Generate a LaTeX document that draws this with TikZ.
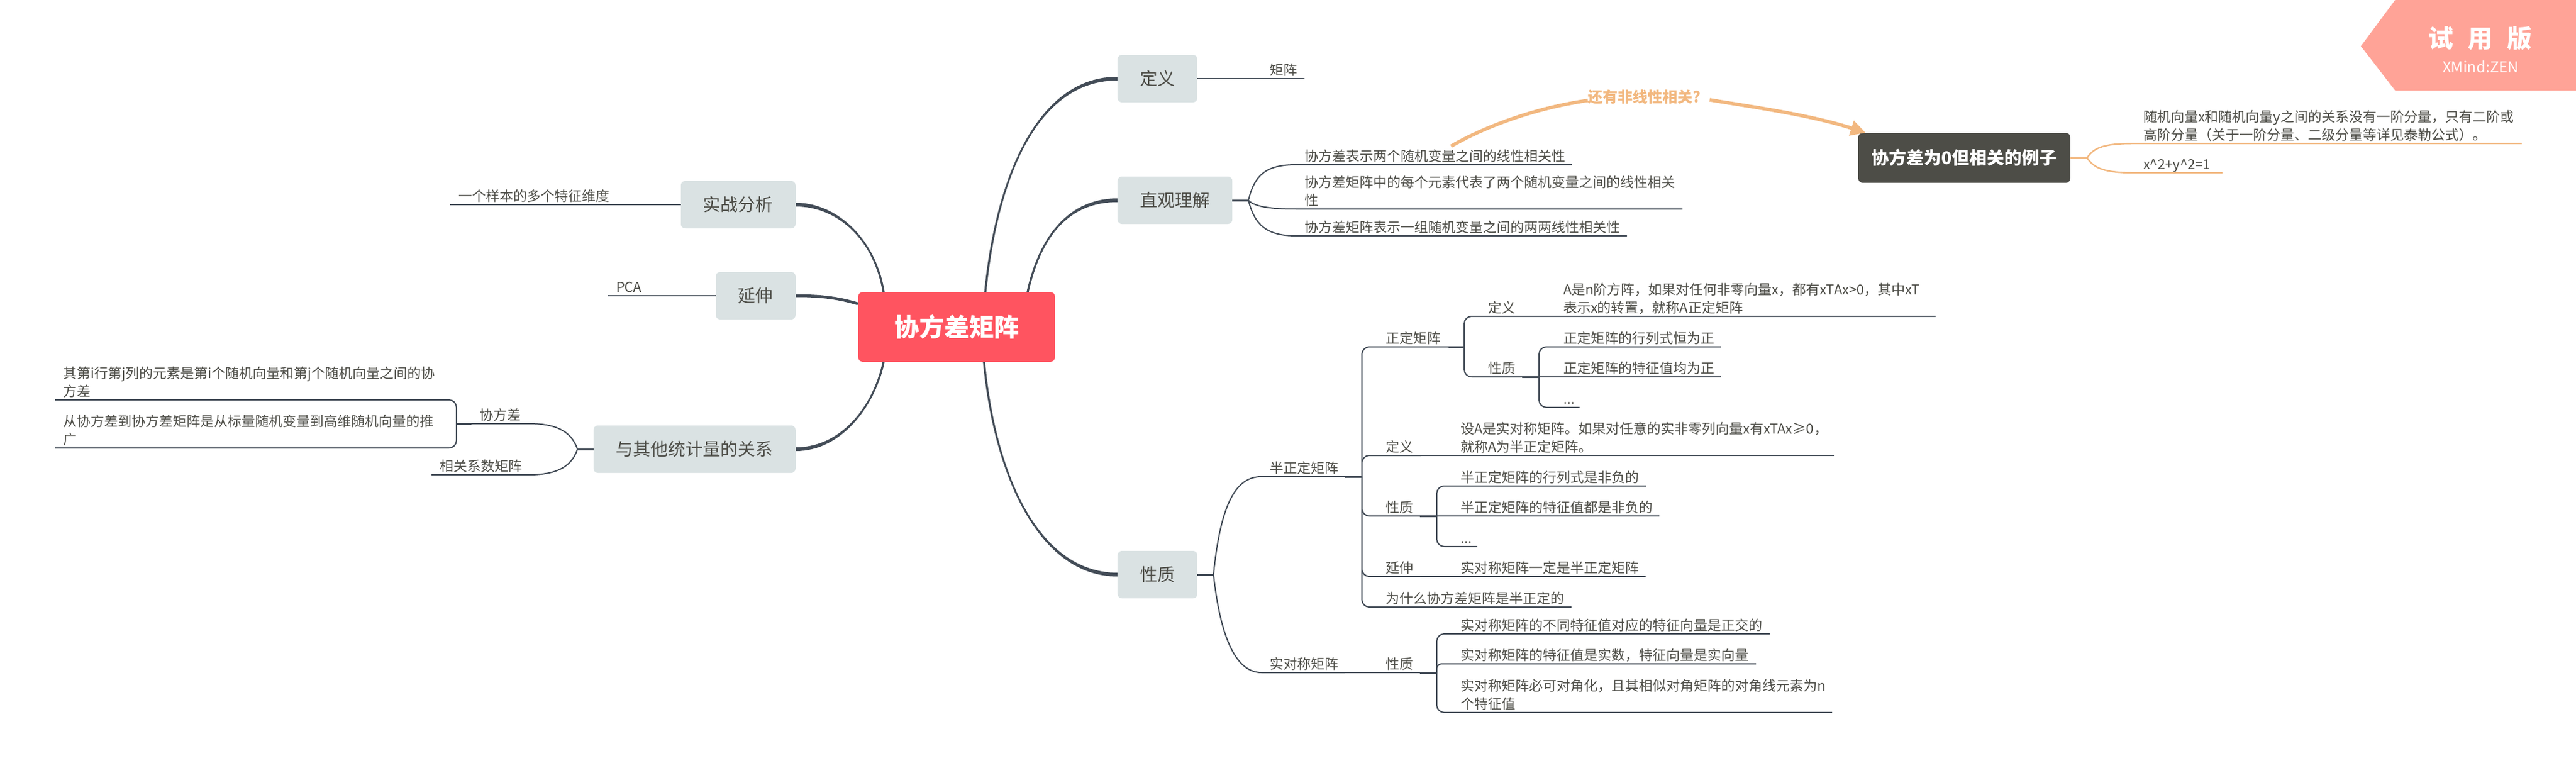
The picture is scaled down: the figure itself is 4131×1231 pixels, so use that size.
\documentclass[tikz,border=0pt]{standalone}
\usepackage{fontspec}
\setmainfont{Noto Sans CJK SC}
\usepackage{xcolor}
\usetikzlibrary{arrows.meta}
\definecolor{vtext}{HTML}{4d4d47}
\definecolor{vlink}{HTML}{434c57}
\definecolor{vtopic}{HTML}{dae2e3}
\definecolor{vroot}{HTML}{ff5460}
\definecolor{vorange}{HTML}{f2b880}
\definecolor{vbadge}{HTML}{ffa397}
\tikzset{
	root/.style={fill=vroot, rounded corners=8pt, minimum width=316pt, minimum height=112pt, inner sep=0pt, text=white, font=\fontsize{40}{48}\selectfont\bfseries},
	topic/.style={fill=vtopic, rounded corners=7pt, minimum height=76pt, inner xsep=36pt, inner ysep=0pt, text height=24pt, text depth=4pt, text=vtext, font=\fontsize{28}{34}\selectfont},
	leaf/.style={text width=#1pt, align=left, anchor=south west, inner xsep=13pt, inner ysep=5.5pt, outer sep=0pt, text depth=0pt, text=vtext, font=\fontsize{22}{29}\selectfont},
	twolines/.style={text depth=29pt},
	link/.style={draw=vlink, line width=2pt},
	stub/.style={draw=vlink, line width=3pt},
	orangelink/.style={draw=vorange, line width=2.4pt},
	relation/.style={draw=vorange, line width=5.5pt}
}
\newcommand{\mainlink}[5]{\fill[vlink] ([xshift=-1.7pt]#1) .. controls ([xshift=-1.7pt]#2) and ([yshift=#5*3pt]#3) .. ([yshift=#5*3pt]#4) -- ([yshift=#5*-3pt]#4) .. controls ([yshift=#5*-3pt]#3) and ([xshift=1.7pt]#2) .. ([xshift=1.7pt]#1) -- cycle;}
\begin{document}
\begin{tikzpicture}[x=1pt, y=-1pt]
		\useasboundingbox (0,0) rectangle (4131,1231);
		% badge
		\fill[vbadge] (3841,0) -- (3786,74) -- (3841,145) -- (4131,145) -- (4131,0) -- cycle;
		\node[text=white, font=\fontsize{40}{48}\selectfont\bfseries] (trial) at (3977,62) {\spaceskip=23pt 试 用 版};
		\node[text=white, font=\fontsize{24}{30}\selectfont] (zen) at (3978,107) {XMind:ZEN};
		% root and topics
		\node[root] (root) at (1534,524) {协方差矩阵};
		\node[topic, anchor=east] (shizhan) at (1276,328) {实战分析};
		\node[topic, anchor=east] (yanshen) at (1276,474) {延伸};
		\node[topic, anchor=east] (guanxi) at (1276,720) {与其他统计量的关系};
		\node[topic, anchor=west] (dingyi) at (1792,126) {定义};
		\node[topic, anchor=west] (zhiguan) at (1792,321) {直观理解};
		\node[topic, anchor=west] (xingzhi) at (1792,921) {性质};
		\mainlink{1417,468}{1402,380}{1340,328}{1276,328}{-1}
		\mainlink{1417,580}{1402,650}{1350,720}{1276,720}{1}
		\mainlink{1580,468}{1600,270}{1670,126}{1792,126}{1}
		\mainlink{1648,468}{1670,370}{1720,321}{1792,321}{1}
		\mainlink{1578,580}{1595,760}{1665,921}{1792,921}{-1}
		\draw[vlink, line width=4.5pt] ([yshift=37pt]root.west) .. controls (1340,476) and (1310,474) .. (yanshen.east);
		% left side
		\node[leaf=240] (sample) at (722,328) {一个样本的多个特征维度};
		\draw[link] (sample.south west) -- (sample.south east) -- (shizhan.west);
		\node[leaf=43] (pca) at (975,474) {PCA};
		\draw[link] (pca.south west) -- (pca.south east) -- (yanshen.west);
		\coordinate (guanxifork) at (926,720);
		\node[leaf=66] (cov) at (756,679) {协方差};
		\node[leaf=130] (corr) at (692,761) {相关系数矩阵};
		\draw[stub] (guanxi.west) -- (guanxifork);
		\draw[link] (guanxifork) .. controls (916,690) and (890,679) .. (cov.south east) -- (cov.south west);
		\draw[link] (guanxifork) .. controls (916,750) and (890,761) .. (corr.south east) -- (corr.south west);
		\coordinate (covfork) at (732,679);
		\node[leaf=591, twolines] (covq) at (88,641) {其第i行第j列的元素是第i个随机向量和第j个随机向量之间的协\\方差};
		\node[leaf=591, twolines] (covr) at (88,718) {从协方差到协方差矩阵是从标量随机变量到高维随机向量的推\\广};
		\draw[stub] (cov.south west) -- (covfork);
		\draw[link, rounded corners=12pt] (covfork) |- (covq.south east) -- (covq.south west);
		\draw[link, rounded corners=12pt] (covfork) |- (covr.south east) -- (covr.south west);
		% definition
		\node[leaf=43] (matrix) at (2023,126) {矩阵};
		\draw[link] (dingyi.east) -- (matrix.south west) -- (matrix.south east);
		% intuition
		\coordinate (zhiguanfork) at (2002,321);
		\node[leaf=416] (linear) at (2079,264) {协方差表示两个随机变量之间的线性相关性};
		\node[leaf=593, twolines] (element) at (2079,335) {协方差矩阵中的每个元素代表了两个随机变量之间的线性相关\\性};
		\node[leaf=504] (pairwise) at (2079,378) {协方差矩阵表示一组随机变量之间的两两线性相关性};
		\draw[stub] (zhiguan.east) -- (zhiguanfork);
		\draw[link] (zhiguanfork) .. controls (2012,280) and (2030,264) .. (linear.south west) -- (linear.south east);
		\draw[link] (zhiguanfork) .. controls (2012,332) and (2040,335) .. (element.south west) -- (element.south east);
		\draw[link] (zhiguanfork) .. controls (2012,360) and (2030,378) .. (pairwise.south west) -- (pairwise.south east);
		% relation to the example
		\node[inner sep=0pt, text=vorange, font=\fontsize{24}{30}\selectfont\bfseries] (nonlinear) at (2637,155) {还有非线性相关?};
		\node[fill=vtext, rounded corners=7pt, minimum width=340pt, minimum height=80pt, inner sep=0pt, text=white, font=\fontsize{28}{34}\selectfont\bfseries] (example) at (3150,253) {协方差为0但相关的例子};
		\draw[relation] ([xshift=27pt]linear.north) .. controls (2390,198) and (2470,172) .. ([yshift=-6pt]nonlinear.west);
		\draw[relation, -{Triangle[length=24pt, width=24pt]}] ([xshift=14pt, yshift=-5pt]nonlinear.east) .. controls (2800,170) and (2900,183) .. ([xshift=12pt]example.north west);
		\coordinate (examplefork) at (3347,253);
		\node[leaf=594, twolines] (moment) at (3424,230) {随机向量x和随机向量y之间的关系没有一阶分量，只有二阶或\\高阶分量（关于一阶分量、二级分量等详见泰勒公式）。};
		\node[leaf=114] (circle) at (3424,277) {x\textasciicircum 2+y\textasciicircum 2=1};
		\draw[orangelink, line width=3.5pt] (example.east) -- (examplefork);
		\draw[orangelink] (examplefork) .. controls (3358,236) and (3375,230) .. (moment.south west) -- (moment.south east);
		\draw[orangelink] (examplefork) .. controls (3358,270) and (3375,277) .. (circle.south west) -- (circle.south east);
		% properties
		\coordinate (xingzhifork) at (1946,921);
		\node[leaf=108] (semi) at (2023,764) {半正定矩阵};
		\node[leaf=108] (sym) at (2023,1078) {实对称矩阵};
		\draw[stub] (xingzhi.east) -- (xingzhifork);
		\draw[link] (xingzhifork) .. controls (1958,800) and (1985,764) .. (semi.south west) -- (semi.south east);
		\draw[link] (xingzhifork) .. controls (1958,1030) and (1985,1078) .. (sym.south west) -- (sym.south east);
		% semi-definite
		\coordinate (semifork) at (2184,764);
		\node[leaf=88] (pd) at (2209,556) {正定矩阵};
		\node[leaf=44] (semidef) at (2209,730) {定义};
		\node[leaf=42] (semiprop) at (2209,827) {性质};
		\node[leaf=43] (semiext) at (2209,924) {延伸};
		\node[leaf=285] (semiwhy) at (2209,973) {为什么协方差矩阵是半正定的};
		\draw[stub] (semi.south east) -- (semifork);
		\draw[link, rounded corners=12pt] (semifork) |- (pd.south west) -- (pd.south east);
		\draw[link, rounded corners=12pt] (semifork) |- (semidef.south west) -- (semidef.south east);
		\draw[link, rounded corners=12pt] (semifork) |- (semiprop.south west) -- (semiprop.south east);
		\draw[link, rounded corners=12pt] (semifork) |- (semiext.south west) -- (semiext.south east);
		\draw[link, rounded corners=12pt] (semifork) |- (semiwhy.south west) -- (semiwhy.south east);
		% positive definite
		\coordinate (pdfork) at (2348,556);
		\node[leaf=44] (pddef) at (2373,507) {定义};
		\node[leaf=42] (pdprop) at (2373,604) {性质};
		\node[leaf=584, twolines] (pddeftext) at (2494,507) {A是n阶方阵，如果对任何非零向量x，都有xTAx>0，其中xT\\表示x的转置，就称A正定矩阵};
		\draw[stub] (pd.south east) -- (pdfork);
		\draw[link, rounded corners=12pt] (pdfork) |- (pddef.south west) -- (pddef.south east) -- (pddeftext.south west) -- (pddeftext.south east);
		\draw[link, rounded corners=12pt] (pdfork) |- (pdprop.south west) -- (pdprop.south east);
		\coordinate (pdpropfork) at (2468,604);
		\node[leaf=240] (pddet) at (2494,556) {正定矩阵的行列式恒为正};
		\node[leaf=240] (pdeig) at (2494,604) {正定矩阵的特征值均为正};
		\node[leaf=13] (pdmore) at (2494,653) {...};
		\draw[stub] (pdprop.south east) -- (pdpropfork);
		\draw[link, rounded corners=12pt] (pdpropfork) |- (pddet.south west) -- (pddet.south east);
		\draw[link] (pdpropfork) -- (pdeig.south west) -- (pdeig.south east);
		\draw[link, rounded corners=12pt] (pdpropfork) |- (pdmore.south west) -- (pdmore.south east);
		% semi-definite leaves
		\node[leaf=586, twolines] (semideftext) at (2329,730) {设A是实对称矩阵。如果对任意的实非零列向量x有xTAx≥0，\\就称A为半正定矩阵。};
		\draw[link] (semidef.south east) -- (semideftext.south west) -- (semideftext.south east);
		\coordinate (semipropfork) at (2304,827);
		\node[leaf=285] (semidet) at (2329,779) {半正定矩阵的行列式是非负的};
		\node[leaf=306] (semieig) at (2329,827) {半正定矩阵的特征值都是非负的};
		\node[leaf=14] (semimore) at (2329,876) {...};
		\draw[stub] (semiprop.south east) -- (semipropfork);
		\draw[link, rounded corners=12pt] (semipropfork) |- (semidet.south west) -- (semidet.south east);
		\draw[link] (semipropfork) -- (semieig.south west) -- (semieig.south east);
		\draw[link, rounded corners=12pt] (semipropfork) |- (semimore.south west) -- (semimore.south east);
		\node[leaf=284] (semiexttext) at (2329,924) {实对称矩阵一定是半正定矩阵};
		\draw[link] (semiext.south east) -- (semiexttext.south west) -- (semiexttext.south east);
		% symmetric
		\node[leaf=42] (symprop) at (2209,1078) {性质};
		\draw[link] (sym.south east) -- (symprop.south west) -- (symprop.south east);
		\coordinate (sympropfork) at (2304,1078);
		\node[leaf=483] (symorth) at (2329,1016) {实对称矩阵的不同特征值对应的特征向量是正交的};
		\node[leaf=461] (symreal) at (2329,1064) {实对称矩阵的特征值是实数，特征向量是实向量};
		\node[leaf=583, twolines] (symdiag) at (2329,1142) {实对称矩阵必可对角化，且其相似对角矩阵的对角线元素为n\\个特征值};
		\draw[stub] (symprop.south east) -- (sympropfork);
		\draw[link, rounded corners=12pt] (sympropfork) |- (symorth.south west) -- (symorth.south east);
		\draw[link, rounded corners=8pt] (sympropfork) |- (symreal.south west) -- (symreal.south east);
		\draw[link, rounded corners=12pt] (sympropfork) |- (symdiag.south west) -- (symdiag.south east);
	\end{tikzpicture}
\end{document}
